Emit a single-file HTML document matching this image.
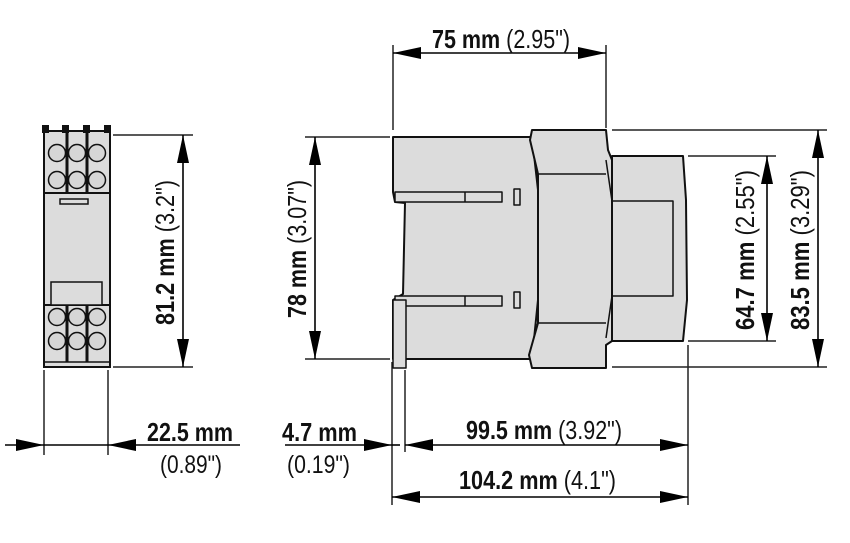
<!DOCTYPE html>
<html><head><meta charset="utf-8"><style>
html,body{margin:0;padding:0;background:#fff}
svg{display:block}
text{font-family:"Liberation Sans",sans-serif;fill:#111}
.b{font-weight:bold}
</style></head><body>
<svg width="850" height="543" viewBox="0 0 850 543" xmlns="http://www.w3.org/2000/svg">
<defs>
<marker id="a" viewBox="0 0 28 12" refX="28" refY="6" markerWidth="28" markerHeight="12" markerUnits="userSpaceOnUse" orient="auto-start-reverse"><path d="M0,0 L28,6 L0,12 Z" fill="#000"/></marker>
</defs>
<g stroke="#222" stroke-width="1.5" fill="none">
<line x1="113" y1="135" x2="193" y2="135"/>
<line x1="113" y1="367" x2="193" y2="367"/>
<line x1="44" y1="370" x2="44" y2="455"/>
<line x1="108" y1="370" x2="108" y2="455"/>
<line x1="393" y1="45" x2="393" y2="130"/>
<line x1="606" y1="45" x2="606" y2="128"/>
<line x1="305" y1="137" x2="390" y2="137"/>
<line x1="305" y1="359" x2="390" y2="359"/>
<line x1="612" y1="130" x2="827" y2="130"/>
<line x1="612" y1="367" x2="827" y2="367"/>
<line x1="688" y1="156" x2="776" y2="156"/>
<line x1="688" y1="341" x2="776" y2="341"/>
<line x1="392" y1="362" x2="392" y2="505"/>
<line x1="405" y1="370" x2="405" y2="452"/>
<line x1="688" y1="345" x2="688" y2="505"/>
</g>
<g stroke="#000" stroke-width="1.6" fill="none">
<line x1="183" y1="135" x2="183" y2="367" marker-start="url(#a)" marker-end="url(#a)"/>
<line x1="315" y1="137" x2="315" y2="359" marker-start="url(#a)" marker-end="url(#a)"/>
<line x1="393" y1="53" x2="606" y2="53" marker-start="url(#a)" marker-end="url(#a)"/>
<line x1="767" y1="156" x2="767" y2="341" marker-start="url(#a)" marker-end="url(#a)"/>
<line x1="818" y1="130" x2="818" y2="367" marker-start="url(#a)" marker-end="url(#a)"/>
<line x1="5" y1="445" x2="44" y2="445" marker-end="url(#a)"/>
<line x1="44" y1="445" x2="108" y2="445"/>
<line x1="240" y1="445" x2="108" y2="445" marker-end="url(#a)"/>
<line x1="285" y1="445" x2="392" y2="445" marker-end="url(#a)"/>
<line x1="392" y1="445" x2="400" y2="445"/>
<line x1="405" y1="445" x2="688" y2="445" marker-start="url(#a)" marker-end="url(#a)"/>
<line x1="392" y1="497" x2="688" y2="497" marker-start="url(#a)" marker-end="url(#a)"/>
</g>
<g stroke="#111" stroke-width="2" fill="#dcdcdc">
<rect x="44" y="131" width="66" height="236"/>
<line x1="67" y1="131" x2="67" y2="193" stroke-width="3"/>
<line x1="87" y1="131" x2="87" y2="193" stroke-width="3"/>
<line x1="67" y1="305" x2="67" y2="362" stroke-width="3"/>
<line x1="87" y1="305" x2="87" y2="362" stroke-width="3"/>
<line x1="44" y1="193" x2="110" y2="193"/>
<line x1="44" y1="305" x2="110" y2="305"/>
<rect x="51" y="282" width="51" height="23" stroke-width="1.5"/>
<rect x="60" y="199" width="28" height="5" stroke-width="1.5"/>
<line x1="44" y1="362" x2="110" y2="362" stroke-width="1.5"/>
</g>
<g stroke="#111" stroke-width="2" fill="#111">
<rect x="43" y="126" width="5" height="6"/><rect x="63" y="126" width="5" height="6"/><rect x="84" y="126" width="5" height="6"/><rect x="105" y="126" width="5" height="6"/>
</g>
<g stroke="#111" stroke-width="1.5" fill="#d6d6d6">
<circle cx="57" cy="153" r="8.5"/><circle cx="77" cy="153" r="8.5"/><circle cx="97" cy="153" r="8.5"/>
<circle cx="57" cy="180" r="8.5"/><circle cx="77" cy="180" r="8.5"/><circle cx="97" cy="180" r="8.5"/>
<circle cx="57" cy="317" r="8.5"/><circle cx="77" cy="317" r="8.5"/><circle cx="97" cy="317" r="8.5"/>
<circle cx="57" cy="341" r="8.5"/><circle cx="77" cy="341" r="8.5"/><circle cx="97" cy="341" r="8.5"/>
</g>
<g stroke="#111" stroke-width="2" fill="#dcdcdc" stroke-linejoin="round">
<path d="M393,137 L532,137 L538,190 L538,300 L532,359 L393,359 L393,300 L403,294 L405,203 L395,202 L393,192 Z"/>
<path d="M612,156 L683,156 L686,200 L687,300 L683,341 L612,341 Z"/>
<path d="M532,130 L606,130 L608,150 L612,160 L612,341 L606,345 L606,368 L532,368 L529,355 L538,323 L538,174 L530,140 Z"/>
<path d="M612,160 L612,201 L673,201 L673,296 L612,296" fill="none" stroke-width="1.5"/>
<path d="M606,160 L612,201 M606,338 L612,296" fill="none" stroke-width="1.5"/>
<line x1="538" y1="174" x2="606" y2="174" stroke-width="1.5"/>
<line x1="538" y1="323" x2="606" y2="323" stroke-width="1.5"/>
<rect x="395" y="192" width="107" height="10" stroke-width="1.5"/>
<rect x="395" y="296" width="107" height="10" stroke-width="1.5"/>
<line x1="465" y1="192" x2="465" y2="202" stroke-width="1.5"/>
<line x1="465" y1="296" x2="465" y2="306" stroke-width="1.5"/>
<rect x="514" y="189" width="6" height="16" stroke-width="1.5"/>
<rect x="514" y="292" width="6" height="16" stroke-width="1.5"/>
<rect x="393" y="300" width="13" height="68" stroke-width="1.5"/>
</g>
<text x="432" y="48" font-size="26" textLength="138" lengthAdjust="spacingAndGlyphs"><tspan class="b">75 mm</tspan> (2.95")</text>
<text x="147" y="441" font-size="26" class="b" textLength="86" lengthAdjust="spacingAndGlyphs">22.5 mm</text>
<text x="160" y="473" font-size="25" textLength="62" lengthAdjust="spacingAndGlyphs">(0.89")</text>
<text x="282" y="441" font-size="26" class="b" textLength="75" lengthAdjust="spacingAndGlyphs">4.7 mm</text>
<text x="287" y="473" font-size="25" textLength="63" lengthAdjust="spacingAndGlyphs">(0.19")</text>
<text x="466" y="439" font-size="26" textLength="156" lengthAdjust="spacingAndGlyphs"><tspan class="b">99.5 mm</tspan> (3.92")</text>
<text x="459" y="489" font-size="26" textLength="157" lengthAdjust="spacingAndGlyphs"><tspan class="b">104.2 mm</tspan> (4.1")</text>
<text transform="translate(174,325) rotate(-90)" font-size="26" textLength="145" lengthAdjust="spacingAndGlyphs"><tspan class="b">81.2 mm</tspan> (3.2")</text>
<text transform="translate(306,318) rotate(-90)" font-size="26" textLength="138" lengthAdjust="spacingAndGlyphs"><tspan class="b">78 mm</tspan> (3.07")</text>
<text transform="translate(754,330) rotate(-90)" font-size="26" textLength="160" lengthAdjust="spacingAndGlyphs"><tspan class="b">64.7 mm</tspan> (2.55")</text>
<text transform="translate(809,330) rotate(-90)" font-size="26" textLength="160" lengthAdjust="spacingAndGlyphs"><tspan class="b">83.5 mm</tspan> (3.29")</text>
</svg>
</body></html>
